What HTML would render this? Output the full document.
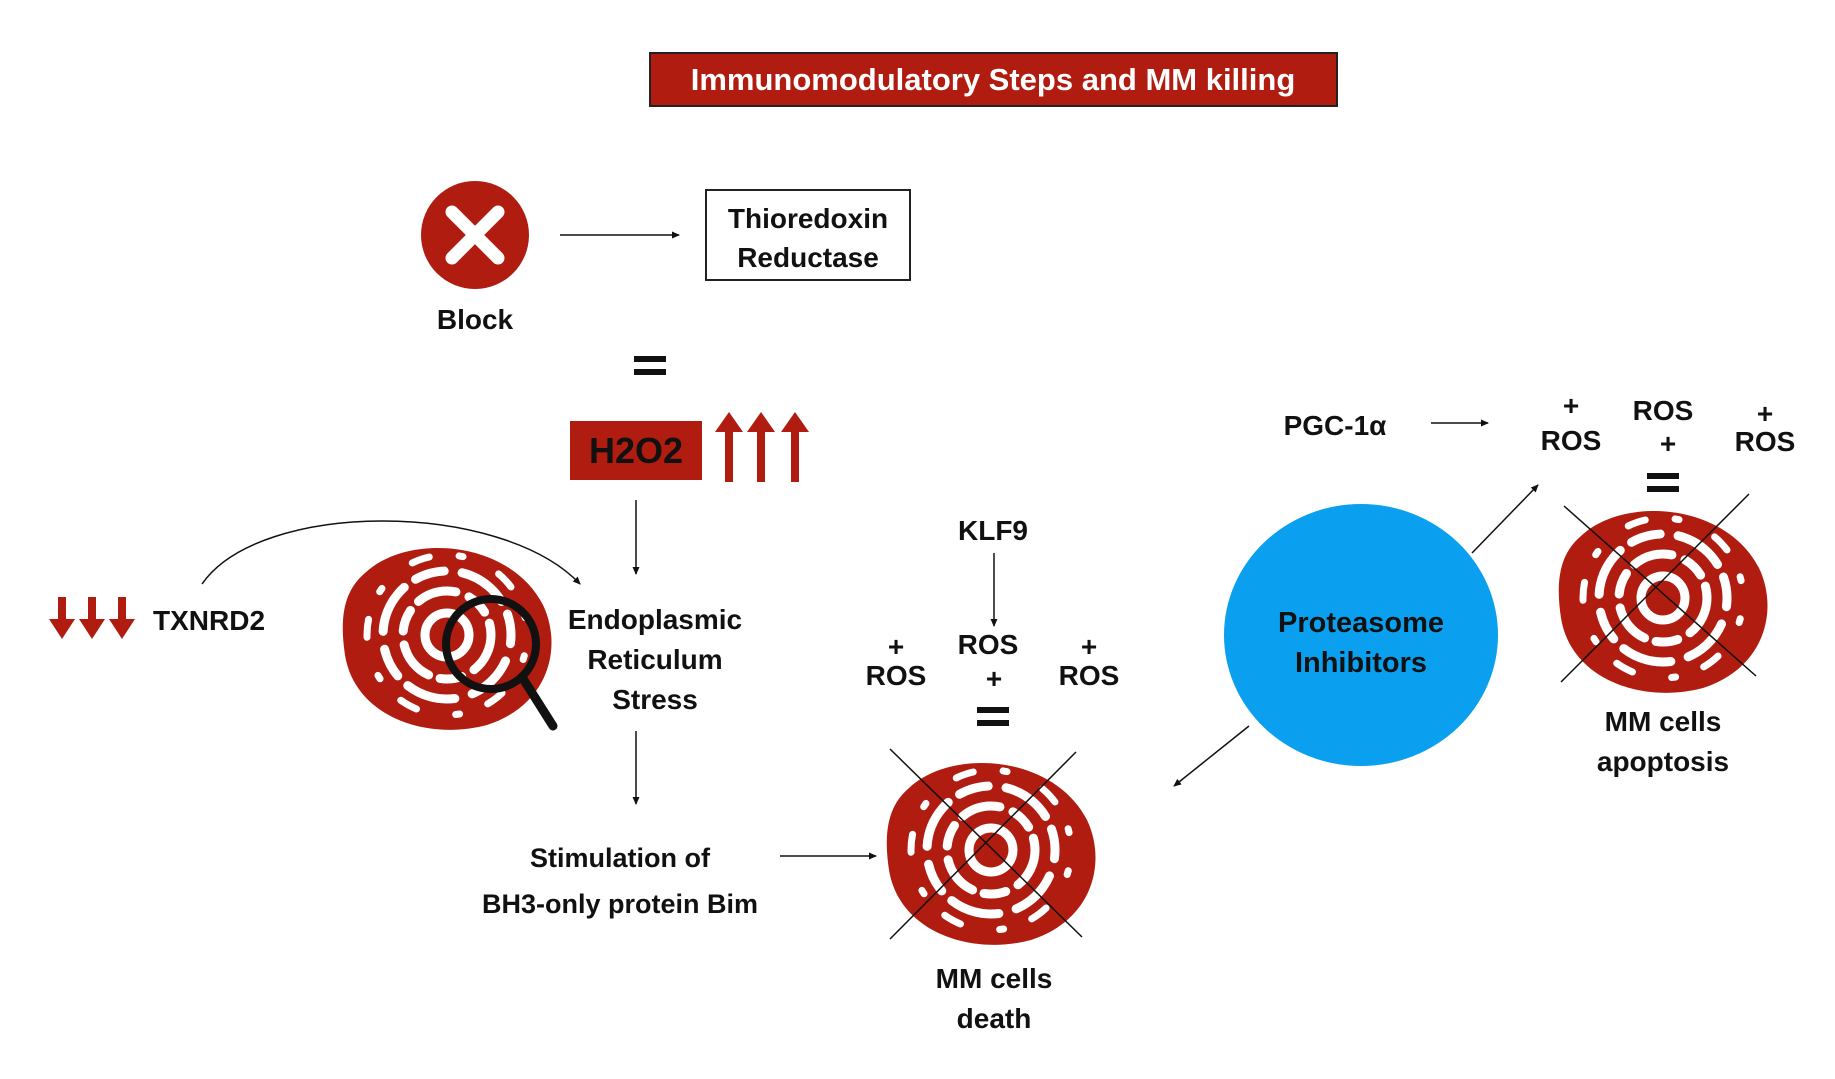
<!DOCTYPE html>
<html><head><meta charset="utf-8"><style>
html,body{margin:0;padding:0;background:#fff}
svg{display:block}
text{font-family:"Liberation Sans",Arial,sans-serif;font-weight:bold;fill:#111}
</style></head><body>
<svg width="1835" height="1079" viewBox="0 0 1835 1079" xmlns="http://www.w3.org/2000/svg">
<defs>
<marker id="ah" markerWidth="8" markerHeight="8" refX="7" refY="4" orient="auto" markerUnits="userSpaceOnUse"><path d="M0,0.5 L8,4 L0,7.5Z" fill="#111"/></marker>
<g id="cell">
<path d="M-82,-62 C-40,-102 62,-96 96,-30 C116,12 102,70 40,90 C-20,106 -92,82 -102,20 C-108,-20 -102,-45 -82,-62Z" fill="#b01c10"/>
<circle r="22" fill="none" stroke="#fff" stroke-width="9"/>
<circle r="7" fill="#b01c10"/>
<circle r="44" fill="none" stroke="#fff" stroke-width="9" stroke-dasharray="40 14 22 12" stroke-linecap="round"/>
<circle r="64" fill="none" stroke="#fff" stroke-width="9" stroke-dasharray="30 18 50 14" stroke-linecap="round" transform="rotate(40)"/>
<circle r="80" fill="none" stroke="#fff" stroke-width="7" stroke-dasharray="4 40 18 30" stroke-linecap="round" transform="rotate(15)"/>
</g>
</defs>

<rect x="650" y="53" width="687" height="53" fill="#b01c10" stroke="#222" stroke-width="2"/>
<text x="993" y="90" text-anchor="middle" font-size="31" style="fill:#fff">Immunomodulatory Steps and MM killing</text>

<circle cx="475" cy="235" r="54" fill="#b01c10"/>
<path d="M452,212 L498,258 M498,212 L452,258" stroke="#fff" stroke-width="13" stroke-linecap="round"/>
<text x="475" y="329" text-anchor="middle" font-size="28">Block</text>
<line x1="560" y1="235" x2="679" y2="235" stroke="#111" stroke-width="1.5" marker-end="url(#ah)"/>
<rect x="706" y="190" width="204" height="90" fill="#fff" stroke="#222" stroke-width="2"/>
<text x="808" y="228" text-anchor="middle" font-size="28">Thioredoxin</text>
<text x="808" y="267" text-anchor="middle" font-size="28">Reductase</text>

<rect x="634" y="356" width="32" height="6" fill="#111"/><rect x="634" y="369" width="32" height="6" fill="#111"/>

<rect x="570" y="421" width="132" height="59" fill="#b01c10"/>
<text x="636" y="463" text-anchor="middle" font-size="36">H2O2</text>
<g fill="#b01c10">
<path d="M725,482 h8 v-50 h10 l-14,-20 l-14,20 h10z"/>
<path d="M757,482 h8 v-50 h10 l-14,-20 l-14,20 h10z"/>
<path d="M791,482 h8 v-50 h10 l-14,-20 l-14,20 h10z"/>
</g>
<line x1="636" y1="500" x2="636" y2="574" stroke="#111" stroke-width="1.5" marker-end="url(#ah)"/>

<path d="M202,584 C260,500 500,500 580,584" fill="none" stroke="#111" stroke-width="1.5" marker-end="url(#ah)"/>
<g fill="#b01c10">
<path d="M58,597 h8 v22 h9 l-13,20 l-13,-20 h9z"/>
<path d="M88,597 h8 v22 h9 l-13,20 l-13,-20 h9z"/>
<path d="M118,597 h8 v22 h9 l-13,20 l-13,-20 h9z"/>
</g>
<text x="153" y="630" font-size="28">TXNRD2</text>

<use href="#cell" transform="translate(447,635)"/>
<circle cx="491" cy="644" r="45" fill="none" stroke="#111" stroke-width="8"/>
<line x1="522" y1="677" x2="553" y2="726" stroke="#111" stroke-width="9" stroke-linecap="round"/>

<text x="655" y="629" text-anchor="middle" font-size="28">Endoplasmic</text>
<text x="655" y="669" text-anchor="middle" font-size="28">Reticulum</text>
<text x="655" y="709" text-anchor="middle" font-size="28">Stress</text>
<line x1="636" y1="731" x2="636" y2="804" stroke="#111" stroke-width="1.5" marker-end="url(#ah)"/>
<text x="620" y="867" text-anchor="middle" font-size="27">Stimulation of</text>
<text x="620" y="913" text-anchor="middle" font-size="27">BH3-only protein Bim</text>
<line x1="780" y1="856" x2="876" y2="856" stroke="#111" stroke-width="1.5" marker-end="url(#ah)"/>

<use href="#cell" transform="translate(991,850)"/>
<line x1="890" y1="749" x2="1082" y2="937" stroke="#111" stroke-width="1.5"/>
<line x1="1076" y1="752" x2="890" y2="939" stroke="#111" stroke-width="1.5"/>
<text x="994" y="988" text-anchor="middle" font-size="28">MM cells</text>
<text x="994" y="1028" text-anchor="middle" font-size="28">death</text>

<text x="993" y="540" text-anchor="middle" font-size="28">KLF9</text>
<line x1="994" y1="553" x2="994" y2="626" stroke="#111" stroke-width="1.5" marker-end="url(#ah)"/>
<g font-size="28" text-anchor="middle">
<text x="896" y="656">+</text><text x="896" y="685">ROS</text>
<text x="988" y="654">ROS</text><text x="994" y="688">+</text>
<text x="1089" y="656">+</text><text x="1089" y="685">ROS</text>
</g>
<rect x="977" y="707" width="32" height="6" fill="#111"/><rect x="977" y="720" width="32" height="6" fill="#111"/>

<ellipse cx="1361" cy="635" rx="137" ry="131" fill="#0aa0ef"/>
<text x="1361" y="632" text-anchor="middle" font-size="29">Proteasome</text>
<text x="1361" y="672" text-anchor="middle" font-size="29">Inhibitors</text>
<line x1="1249" y1="726" x2="1174" y2="786" stroke="#111" stroke-width="1.5" marker-end="url(#ah)"/>
<line x1="1472" y1="553" x2="1538" y2="485" stroke="#111" stroke-width="1.5" marker-end="url(#ah)"/>

<text x="1335" y="435" text-anchor="middle" font-size="28">PGC-1α</text>
<line x1="1431" y1="423" x2="1488" y2="423" stroke="#111" stroke-width="1.5" marker-end="url(#ah)"/>
<g font-size="28" text-anchor="middle">
<text x="1571" y="415">+</text><text x="1571" y="450">ROS</text>
<text x="1663" y="420">ROS</text><text x="1668" y="453">+</text>
<text x="1765" y="423">+</text><text x="1765" y="451">ROS</text>
</g>
<rect x="1647" y="473" width="32" height="6" fill="#111"/><rect x="1647" y="486" width="32" height="6" fill="#111"/>

<use href="#cell" transform="translate(1663,598)"/>
<line x1="1564" y1="506" x2="1756" y2="676" stroke="#111" stroke-width="1.5"/>
<line x1="1749" y1="494" x2="1561" y2="682" stroke="#111" stroke-width="1.5"/>
<text x="1663" y="731" text-anchor="middle" font-size="28">MM cells</text>
<text x="1663" y="771" text-anchor="middle" font-size="28">apoptosis</text>
</svg>
</body></html>
